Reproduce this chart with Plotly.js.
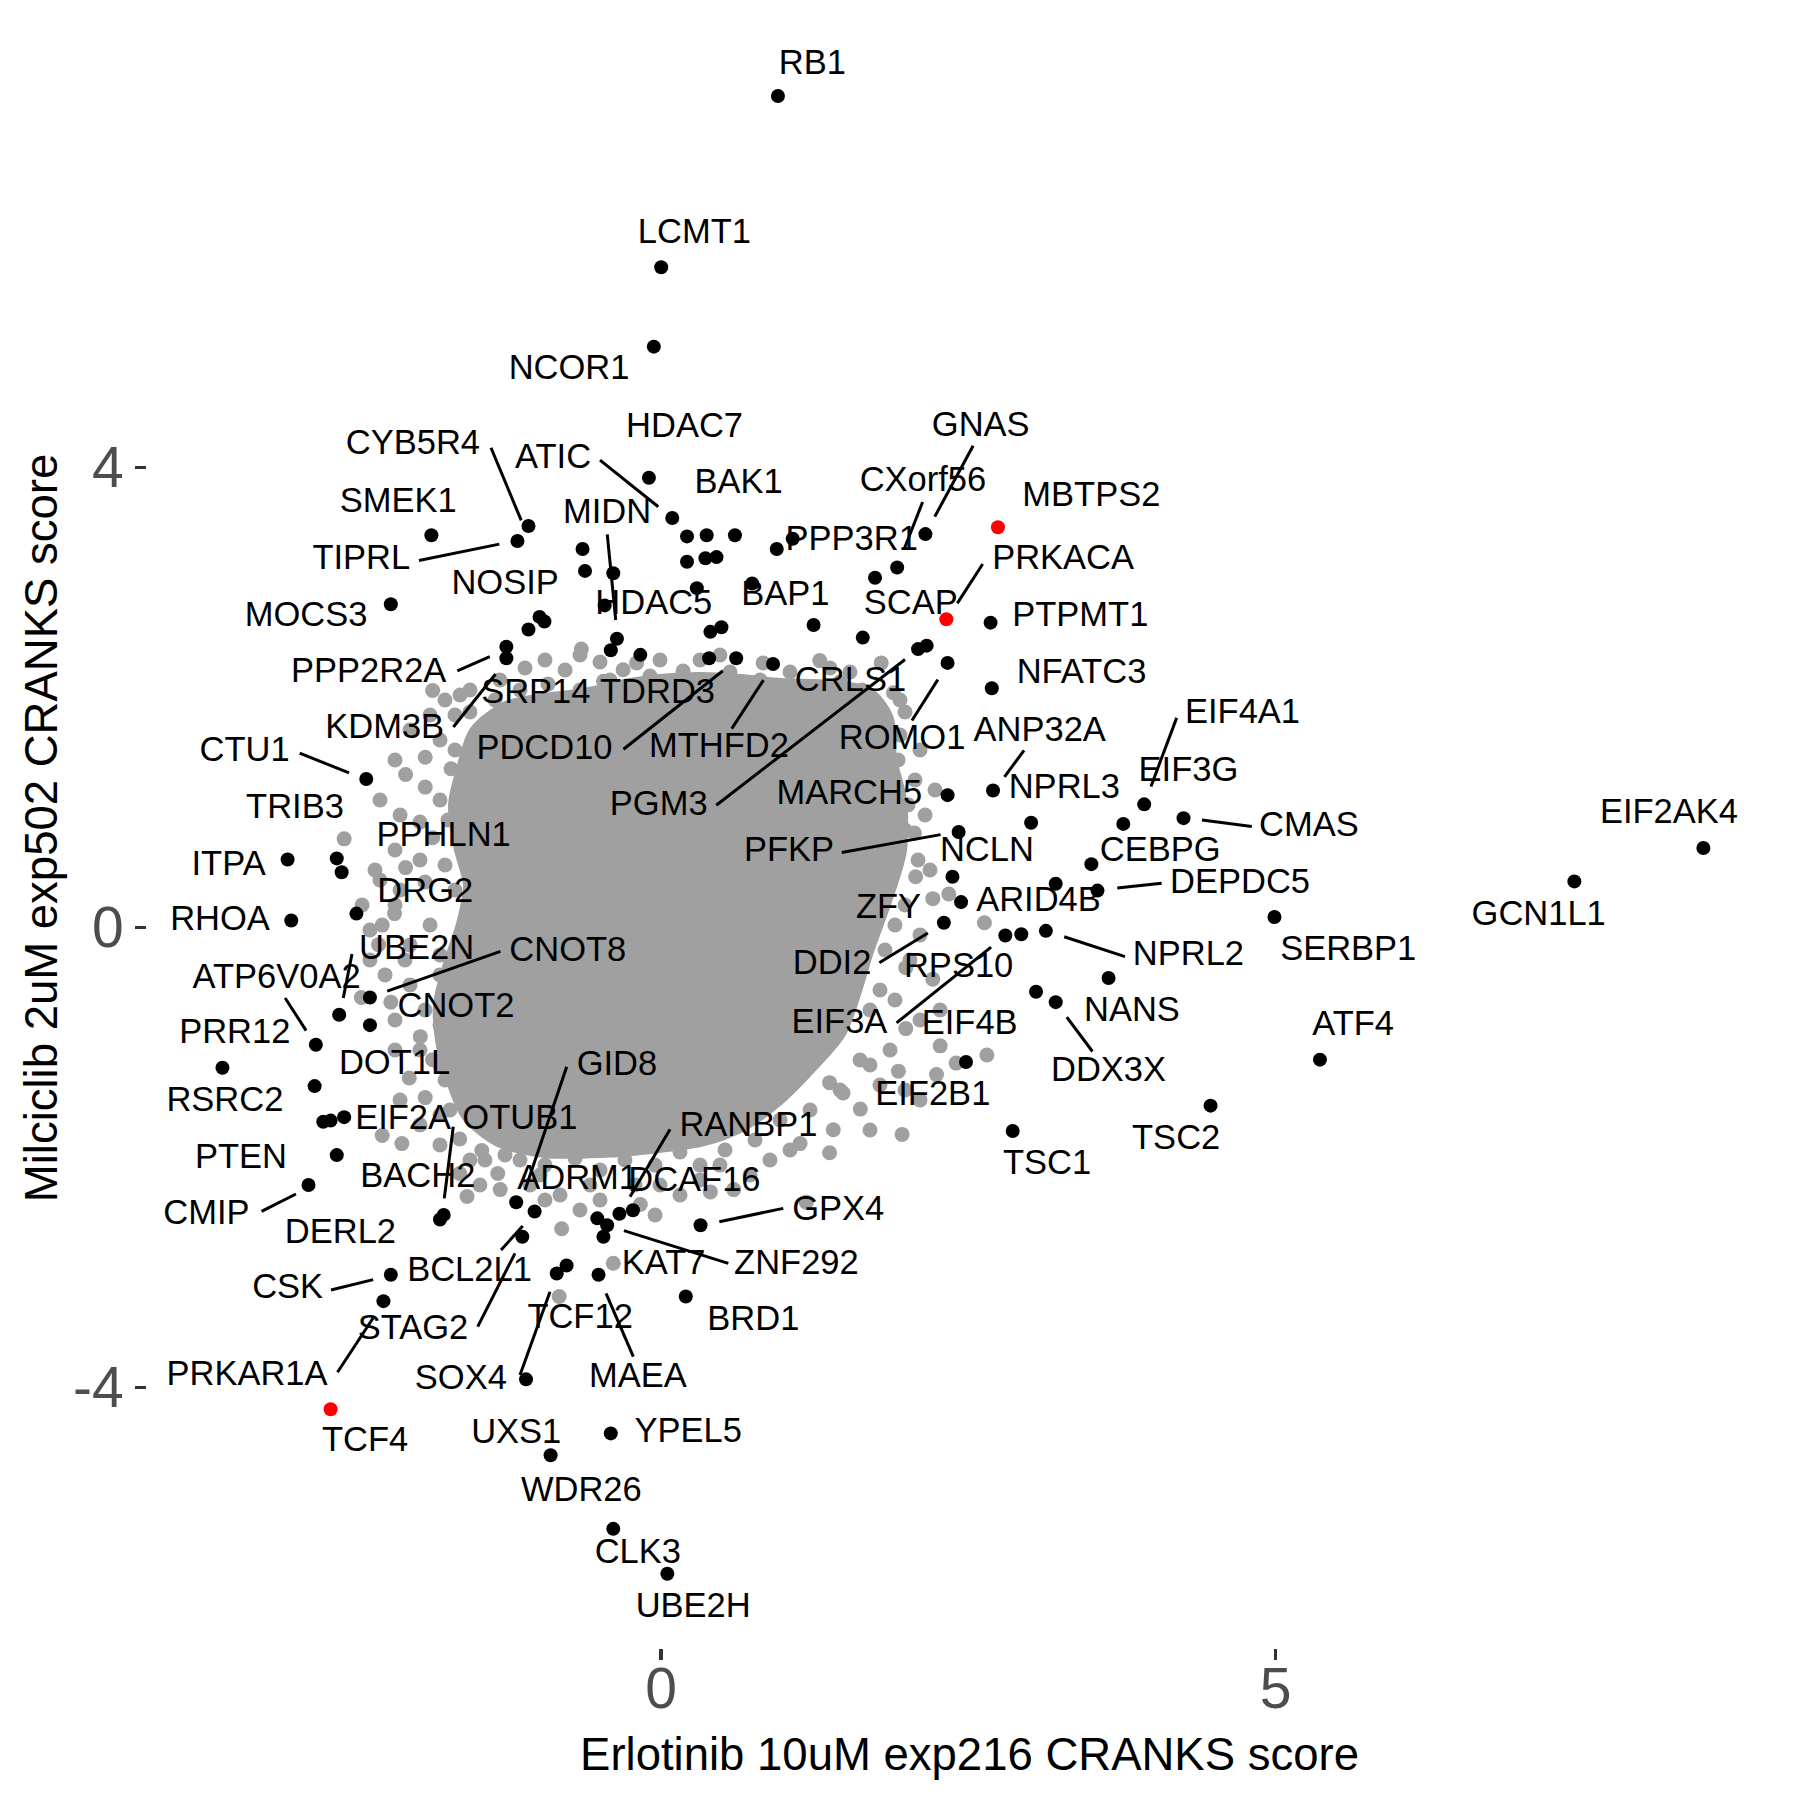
<!DOCTYPE html>
<html><head><meta charset="utf-8">
<script src="https://cdn.plot.ly/plotly-3.0.1.min.js"></script>
<style>html,body{margin:0;padding:0;background:#fff}</style>
</head><body><div id="plot" style="width:1800px;height:1800px"></div>
<script>
// ---- Gray background genes: outline of the dense core and the scattered genes around it ----
const cloudX = [-1.475,-1.230,-0.946,-0.620,-0.335,-0.010,0.316,0.641,0.967,1.373,1.658,1.797,1.821,1.902,1.902,1.780,1.634,1.536,1.414,1.170,0.926,0.641,0.316,-0.091,-0.498,-0.946,-1.312,-1.540,-1.654,-1.735,-1.759,-1.678,-1.572,-1.515,-1.596,-1.637,-1.572];
const cloudY = [1.673,1.873,1.934,1.977,2.047,2.099,2.116,2.099,2.064,2.047,1.995,1.803,1.456,1.108,0.673,0.238,-0.197,-0.544,-0.892,-1.196,-1.457,-1.675,-1.805,-1.866,-1.901,-1.901,-1.805,-1.605,-1.327,-1.022,-0.675,-0.327,0.021,0.369,0.717,1.064,1.369];
const grayX = [-0.65,-1.86,-1.43,-1.33,-1.92,-2.08,-1.92,-1.71,-2.58,-1.86,-2.08,-2.27,-2.17,-2.30,-2.44,-2.20,-1.96,-1.86,-2.05,-1.92,-2.27,-2.11,-1.64,-1.46,-1.64,-1.33,-1.58,-0.81,-0.83,-0.39,-0.17,-1.31,0.40,0.59,1.37,1.40,1.13,1.48,1.18,1.29,1.79,2.06,2.07,2.21,2.34,2.63,1.99,2.21,1.99,2.27,2.65,2.40,2.24,1.96,1.62,1.93,1.37,-0.31,-0.20,0.83,-0.47,1.89,1.13,
  -1.556,-1.352,-1.149,-0.921,-0.782,-0.946,-0.498,-0.091,0.178,0.316,0.560,1.048,0.989,1.536,1.634,1.984,1.943,-0.417,-0.661,0.804,1.455,
  1.927,2.065,2.008,2.147,2.090,1.984,1.902,2.106,1.821,1.780,1.699,1.862,1.618,1.455,1.780,2.106,1.211,0.967,1.699,2.269,
  -1.149,-0.946,-0.701,-0.498,-0.295,-0.050,0.153,0.316,0.519,0.763,0.885,-1.068,-0.823,-0.579,-0.010,0.153,0.723,-1.434,-0.661,-0.050,
  -1.678,-1.800,-1.678,-1.800,-1.735,-1.963,-1.759,-1.678,-1.881,-2.044,-1.800,-2.044,-1.922,-1.800,-1.759,-1.800,-1.556,-2.166,-2.370,-2.125,
  -2.166,-2.288,-2.125,-1.963,-2.166,-2.329,-1.922,-2.166,-2.434,-2.370,-2.085,-1.800,-2.247,-2.166,-1.963,-1.800,-2.125,-1.719,-1.963,-1.800,-2.044,-1.881,-1.760,-1.556,-2.288,
  -1.271,-0.986,-0.376,-0.213,0.316,0.478,1.048,-0.946,-0.498,-1.475,
  1.943,2.106,2.228,1.984,2.187,2.024,1.902,2.106,1.699,1.984,
  -1.108,-0.661,-0.010,0.478,1.373,-1.312,-1.637];
const grayY = [2.42,2.06,1.78,1.75,1.48,1.33,1.22,1.38,0.77,0.78,0.52,0.02,0.12,-0.15,-0.61,-0.65,-0.95,-1.15,-1.31,-1.48,-1.81,-1.88,-1.84,-1.94,-2.14,-2.14,-2.34,-2.62,-3.21,-2.92,-2.41,-2.28,-2.30,-2.28,-1.96,-1.76,-1.88,-1.44,-2.39,2.32,2.30,0.82,0.44,0.25,0.29,0.04,-0.35,-0.45,-0.88,-1.03,-1.11,-1.18,-1.28,-1.80,-1.58,-1.25,-1.35,2.24,2.30,2.30,2.14,2.04,2.09,
  1.873,1.977,2.064,2.116,2.238,2.325,2.308,2.186,2.230,2.325,2.221,2.221,2.090,2.221,2.064,1.873,1.673,2.151,2.064,2.151,2.134,
  1.456,1.282,1.066,0.978,0.586,0.195,0.021,-0.065,-0.197,-0.544,-0.718,-1.066,-1.153,-1.414,-1.370,-1.501,-1.588,-1.675,-1.762,-0.718,
  -2.023,-2.067,-2.006,-2.110,-2.023,-2.067,-1.953,-2.067,-1.936,-1.849,-2.023,-2.240,-2.327,-2.240,-2.240,-2.327,-2.153,-2.023,-2.457,-2.501,
  1.847,1.630,1.543,1.108,0.934,0.586,0.543,0.325,0.021,-0.152,-0.239,-0.500,-0.718,-0.848,-1.327,-1.631,-2.023,-1.066,-0.283,0.325,
  1.456,1.108,0.977,0.917,0.673,0.499,0.395,0.195,0.195,-0.023,-0.283,-0.413,-0.413,-0.805,-1.066,-1.196,-1.501,-1.588,-1.717,-1.891,1.717,1.847,1.977,2.064,0.412,
  -1.978,-2.153,-1.936,-2.240,-2.197,-2.067,-1.936,-2.370,-2.370,-2.240,
  1.977,1.543,1.195,0.847,0.499,-0.283,-0.631,-0.805,-1.196,-1.414,
  2.256,2.369,2.325,2.369,2.256,2.151,2.021];

// ---- Highlighted genes (black) ----
const hitX = [0.95,0.00,-0.06,-0.10,0.09,-1.08,-1.17,-1.87,-0.64,-0.62,-0.39,0.21,0.37,0.60,0.21,0.36,0.45,0.94,1.07,2.15,1.92,1.74,0.74,0.29,-0.46,-0.36,-0.41,-0.17,0.40,0.49,1.24,1.64,0.39,0.61,0.91,-0.99,-0.95,-1.08,-1.26,-1.26,-2.20,2.68,2.09,2.16,2.33,2.69,2.33,2.70,3.01,3.76,3.93,4.25,2.42,3.50,3.21,3.55,2.37,2.44,2.30,2.80,2.93,3.13,3.64,3.05,3.21,2.48,2.86,4.47,4.99,5.36,7.43,8.48,-2.40,-3.04,-2.64,-2.60,-2.48,-3.01,-2.37,-2.62,-2.37,-2.81,-3.57,-2.82,-2.75,-2.69,-2.58,-2.64,-2.87,-1.80,-1.77,-1.18,-1.03,-1.13,-0.77,-0.85,-0.51,-0.34,-0.23,-0.52,-0.44,-0.47,0.32,0.20,-2.20,-2.26,-1.10,-0.90,-0.41,-0.39,0.05];
const hitY = [7.23,5.74,5.05,3.91,3.56,3.49,3.36,3.41,3.29,3.10,3.08,3.40,3.41,3.41,3.18,3.21,3.22,3.29,3.38,3.42,3.13,3.04,2.99,2.95,2.80,2.51,2.41,2.37,2.57,2.61,2.63,2.52,2.34,2.34,2.29,2.70,2.66,2.59,2.44,2.34,2.81,2.65,2.42,2.45,2.30,2.08,1.15,1.19,0.91,0.90,1.07,0.95,0.83,0.55,0.38,0.32,0.44,0.22,0.04,-0.07,-0.06,-0.03,-0.44,-0.56,-0.65,-1.17,-1.77,-1.55,0.09,-1.15,0.40,0.69,1.29,0.59,0.60,0.48,0.12,0.06,-0.61,-0.76,-0.85,-1.02,-1.22,-1.38,-1.69,-1.68,-1.65,-1.98,-2.24,-2.54,-2.50,-2.39,-2.47,-2.69,-2.94,-3.01,-3.02,-2.49,-2.46,-2.53,-2.59,-2.69,-2.59,-3.21,-3.02,-3.25,-3.93,-4.59,-4.40,-5.23,-5.62];

// ---- Highlighted genes (red) ----
const redGenes = ["MBTPS2","PRKACA","TCF4"];
const redX = [2.74,2.32,-2.69];
const redY = [3.48,2.68,-4.19];

// ---- Gene labels ----
const labelText = ["RB1","LCMT1","NCOR1","HDAC7","CYB5R4","ATIC","SMEK1","MIDN","BAK1","GNAS","CXorf56","MBTPS2","TIPRL","PPP3R1","PRKACA","NOSIP","HDAC5","BAP1","SCAP","PTPMT1","MOCS3","PPP2R2A","SRP14","TDRD3","CRLS1","NFATC3","KDM3B","CTU1","PDCD10","MTHFD2","ROMO1","ANP32A","EIF4A1","EIF3G","NPRL3","MARCH5","PGM3","TRIB3","CMAS","EIF2AK4","PPHLN1","PFKP","NCLN","CEBPG","ITPA","DEPDC5","DRG2","ARID4B","ZFY","GCN1L1","RHOA","UBE2N","CNOT8","SERBP1","NPRL2","DDI2","RPS10","ATP6V0A2","CNOT2","NANS","EIF3A","EIF4B","ATF4","PRR12","DOT1L","GID8","DDX3X","EIF2B1","RSRC2","EIF2A","OTUB1","RANBP1","TSC2","PTEN","TSC1","BACH2","ADRM1","DCAF16","CMIP","GPX4","DERL2","KAT7","ZNF292","BCL2L1","CSK","TCF12","BRD1","STAG2","PRKAR1A","MAEA","SOX4","UXS1","YPEL5","TCF4","WDR26","CLK3","UBE2H"];
const labelX = [1.23,0.27,-0.75,0.19,-2.02,-0.88,-2.14,-0.44,0.63,2.60,2.13,3.50,-2.44,1.55,3.27,-1.27,-0.06,1.01,2.03,3.41,-2.89,-2.38,-1.02,-0.03,1.54,3.42,-2.25,-3.39,-0.95,0.47,1.96,3.08,4.73,4.29,3.28,1.53,-0.02,-2.98,5.27,8.20,-1.77,1.04,2.65,4.06,-3.52,4.71,-1.92,3.07,1.85,7.14,-3.59,-1.99,-0.76,5.59,4.29,1.39,2.42,-3.13,-1.67,3.83,1.45,2.51,5.63,-3.47,-2.17,-0.36,3.64,2.21,-3.55,-2.10,-1.15,0.71,4.19,-3.42,3.14,-1.98,-0.68,0.27,-3.70,1.44,-2.61,0.02,1.10,-1.56,-3.04,-0.66,0.75,-2.02,-3.37,-0.19,-1.63,-1.18,0.22,-2.41,-0.65,-0.19,0.26];
const labelY = [7.50,6.03,4.84,4.34,4.19,4.07,3.69,3.59,3.85,4.35,3.87,3.74,3.19,3.36,3.19,2.97,2.80,2.88,2.80,2.70,2.70,2.21,2.03,2.03,2.13,2.20,1.72,1.52,1.54,1.56,1.63,1.70,1.85,1.35,1.20,1.15,1.05,1.03,0.87,0.98,0.78,0.65,0.65,0.65,0.53,0.37,0.30,0.22,0.16,0.10,0.05,-0.20,-0.22,-0.21,-0.25,-0.33,-0.36,-0.45,-0.70,-0.74,-0.84,-0.85,-0.86,-0.93,-1.20,-1.21,-1.26,-1.47,-1.52,-1.68,-1.68,-1.74,-1.85,-2.02,-2.07,-2.18,-2.20,-2.22,-2.50,-2.47,-2.67,-2.94,-2.94,-3.00,-3.15,-3.41,-3.43,-3.50,-3.90,-3.92,-3.94,-4.41,-4.40,-4.48,-4.91,-5.45,-5.92];

// ---- Label connector segments ----
const segX0 = [-1.385,-0.498,-1.971,-0.439,2.538,2.127,2.616,-1.659,-1.691,-0.307,0.574,0.448,2.040,2.793,3.985,4.400,1.469,3.711,1.775,3.279,1.915,3.300,-2.942,-2.516,-1.308,-3.060,-0.769,-1.692,0.072,0.473,-0.303,-1.303,-1.493,-0.905,-0.449,-2.687,-2.634,-3.252];
const segY0 = [4.171,4.064,3.190,3.418,4.188,3.699,3.160,2.231,1.743,1.549,1.729,1.062,1.799,1.310,1.226,0.934,0.651,0.342,-0.308,-0.081,-0.830,-0.780,1.516,-0.231,-0.208,-0.614,-1.211,-1.733,-1.756,-2.559,-2.637,-2.805,-3.472,-3.168,-3.182,-3.153,-3.868,-2.470];
const segX1 = [-1.139,-0.024,-1.317,-0.370,2.226,1.977,2.409,-1.395,-1.348,0.502,0.832,1.984,2.251,2.952,4.194,4.805,2.273,4.072,2.170,3.774,2.684,3.509,-2.540,-2.587,-2.229,-2.889,-1.108,-1.765,-0.254,0.993,0.546,-1.127,-1.190,-1.149,-0.227,-2.344,-2.344,-2.972];
const segY1 = [3.539,3.658,3.333,2.673,3.572,3.290,2.818,2.355,2.204,2.232,2.150,2.330,2.155,1.539,1.822,0.877,0.807,0.384,-0.048,-0.254,-0.171,-1.079,1.343,-0.614,-0.554,-0.897,-2.283,-2.356,-2.342,-2.443,-2.921,-2.597,-2.834,-3.892,-3.733,-3.063,-3.396,-2.318];

const xTicks = [0, 5], xTickText = ["0", "5"];
const yTicks = [-4, 0, 4], yTickText = ["-4", "0", "4"];

const FONT = "Liberation Sans, Arial, Helvetica, sans-serif";
const GRAY = "#A0A0A0";

const segXs = [], segYs = [];
for (let i = 0; i < segX0.length; i++) {
  segXs.push(segX0[i], segX1[i], null);
  segYs.push(segY0[i], segY1[i], null);
}

const traces = [
  {type:"scatter", mode:"lines", x:cloudX.concat([cloudX[0]]), y:cloudY.concat([cloudY[0]]),
   fill:"toself", fillcolor:GRAY, line:{color:GRAY, width:24, shape:"spline", smoothing:0.8}, hoverinfo:"skip", showlegend:false},
  {type:"scatter", mode:"markers", x:grayX, y:grayY,
   marker:{color:GRAY, size:15, line:{width:0}}, hoverinfo:"skip", showlegend:false},
  {type:"scatter", mode:"markers", x:hitX, y:hitY,
   marker:{color:"#000000", size:14, line:{width:0}}, hoverinfo:"skip", showlegend:false},
  {type:"scatter", mode:"markers", x:redX, y:redY, text:redGenes,
   marker:{color:"#FF0000", size:14, line:{width:0}}, hoverinfo:"skip", showlegend:false},
  {type:"scatter", mode:"lines", x:segXs, y:segYs,
   line:{color:"#000000", width:3}, hoverinfo:"skip", showlegend:false, connectgaps:false},
  {type:"scatter", mode:"text", x:labelX, y:labelY, text:labelText,
   textposition:"middle center", textfont:{family:FONT, size:34.5, color:"#000000"},
   hoverinfo:"skip", showlegend:false}
];

const axisCommon = {
  ticks:"outside", ticklen:11, tickwidth:3.5, tickcolor:"#333333",
  showgrid:false, zeroline:false, showline:false, automargin:false,
  tickfont:{family:FONT, size:57, color:"#4D4D4D"}
};

const layout = {
  width:1800, height:1800,
  margin:{l:147, r:8, t:8, b:152, pad:0},
  paper_bgcolor:"#FFFFFF", plot_bgcolor:"#FFFFFF",
  showlegend:false,
  xaxis: Object.assign({}, axisCommon, {
    range:[-4.184, 9.201], tickmode:"array", tickvals:xTicks, ticktext:xTickText,
    ticklabelstandoff:-20,
    title:{text:"Erlotinib 10uM exp216 CRANKS score", font:{family:FONT, size:45.5, color:"#000000"}, standoff:18}
  }),
  yaxis: Object.assign({}, axisCommon, {
    range:[-6.266, 7.995], tickmode:"array", tickvals:yTicks, ticktext:yTickText,
    title:{text:"Milciclib 2uM exp502 CRANKS score", font:{family:FONT, size:45.5, color:"#000000"}, standoff:0}
  })
};

Plotly.newPlot("plot", traces, layout, {staticPlot:true, displayModeBar:false});
</script></body></html>
